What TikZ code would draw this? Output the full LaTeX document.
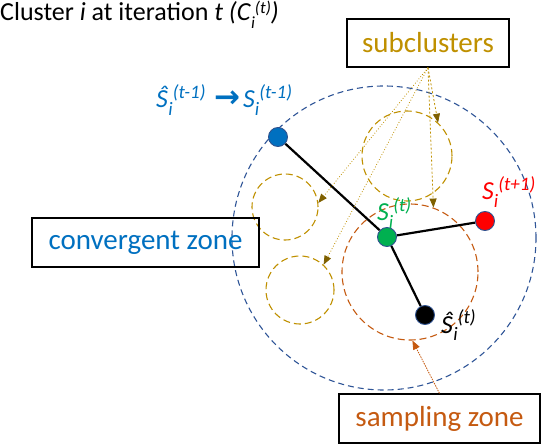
\documentclass[tikz,border=0pt]{standalone}
\usepackage{fontspec}
\setmainfont{Carlito}
\newfontfamily\djv{DejaVu Sans}
\usetikzlibrary{arrows.meta}
\definecolor{cblue}{HTML}{0070C0}
\definecolor{cdblue}{HTML}{2F5597}
\definecolor{cgold}{HTML}{BF9000}
\definecolor{cdgold}{HTML}{7F6000}
\definecolor{corange}{HTML}{C55A11}
\definecolor{cgreen}{HTML}{00B050}
\definecolor{cedge}{HTML}{2F528F}
\newcommand{\SL}[3]{\textit{#1}\raisebox{-0.3em}{\fontsize{19}{19}\selectfont\textit{#2}}\raisebox{0.38em}{\fontsize{19}{19}\selectfont\textit{#3}}}
\newcommand{\ST}[3]{\textit{#1}\raisebox{-0.3em}{\fontsize{17}{17}\selectfont\textit{#2}}\raisebox{0.3em}{\fontsize{17}{17}\selectfont\textit{#3}}}
\tikzset{
  pt/.style={circle,draw=cedge,line width=0.9pt,minimum size=19pt,inner sep=0pt},
  lbl/.style={inner sep=0pt,font=\fontsize{26}{28}\selectfont},
  boxed/.style={draw=black,line width=1.3pt,inner sep=0pt,font=\fontsize{29}{32}\selectfont},
  zone/.style={circle,inner sep=0pt,dash pattern=on 7pt off 4pt,line width=1.1pt},
  link/.style={line width=2.2pt,black},
  goldarr/.style={cgold,line width=0.8pt,-{Triangle[length=9pt,width=7pt,fill=cdgold,color=cdgold]}},
}
\begin{document}
\begin{tikzpicture}[x=1pt,y=-1pt]
\useasboundingbox (0,0) rectangle (542,444);
% title
\node[anchor=base west,inner sep=0pt,font=\fontsize{26}{28}\selectfont] (title) at (0,21)
  {Cluster \textit{i} at iteration \textit{t} \textit{(}\ST{C}{i}{(t)}\textit{)}};
% zones
\node[zone,draw=cdblue,minimum size=304pt,dash pattern=on 6pt off 4pt] (conv) at (384,238) {};
\node[zone,draw=cgold,minimum size=90pt] (sub1) at (407,156) {};
\node[zone,draw=cgold,minimum size=66pt] (sub2) at (285,207) {};
\node[zone,draw=cgold,minimum size=68pt] (sub3) at (300,290) {};
\node[zone,draw=corange,minimum size=136pt] (samp) at (410,272) {};
% boxes
\node[boxed,minimum width=162pt,minimum height=48pt,text=cgold] (subbox) at (428,43) {subclusters};
\node[boxed,minimum width=227pt,minimum height=49pt,text=cblue] (convbox) at (145.5,242.5) {convergent zone};
\node[boxed,minimum width=201pt,minimum height=49pt,text=corange] (sampbox) at (439.5,418.5) {sampling zone};
% points
\node[pt,fill=cblue] (pprev) at (278,137) {};
\node[pt,fill=cgreen] (pcur) at (387,237) {};
\node[pt,fill=red] (pnext) at (485,221) {};
\node[pt,fill=black] (phat) at (425,315) {};
\draw[link] (pprev) -- (pcur);
\draw[link] (pcur) -- (pnext);
\draw[link] (pcur) -- (phat);
% labels
\node[lbl,anchor=base west,text=cblue] (lprev) at (156,108) {\textit{Ŝ}\SL{}{i}{(t-1)}\hspace{0.35em}{\djv\bfseries\fontsize{31}{31}\selectfont →}\hspace{0.1em}\SL{S}{i}{(t-1)}};
\node[lbl,anchor=base west,text=cgreen] (lcur) at (377,221) {\SL{S}{i}{(t)}};
\node[lbl,anchor=base west,text=red] (lnext) at (482,200) {\SL{S}{i}{(t+1)}};
\node[lbl,anchor=base west,text=black] (lhat) at (441,333) {\textit{Ŝ}\SL{}{i}{(t)}};
% subcluster pointers
\draw[goldarr,dotted] (subbox.south) -- (sub2.7);
\draw[goldarr,dotted] (subbox.south) -- (sub3.47);
\draw[goldarr,dash pattern=on 2pt off 2pt] (subbox.south) -- (sub1.47);
\draw[goldarr,dash pattern=on 2pt off 2pt] (subbox.south) -- (samp.70);
% sampling pointer
\draw[corange,line width=0.8pt,dash pattern=on 1.5pt off 1pt,-{Triangle[length=9pt,width=7pt]}] (sampbox.north) -- (samp.-88);
\end{tikzpicture}
\end{document}
